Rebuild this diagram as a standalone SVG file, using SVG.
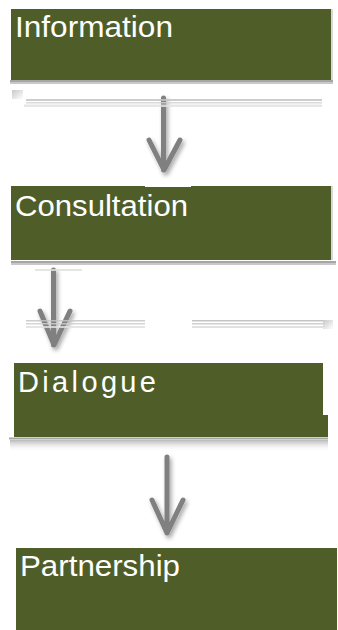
<svg xmlns="http://www.w3.org/2000/svg" width="338" height="630" viewBox="0 0 338 630">
<style>
.box{fill:#4f5e29}
.lbl{font-family:"Liberation Sans",Arial,sans-serif;font-size:29px;fill:#ffffff}
.arr{fill:none;stroke:#808080;stroke-width:5;stroke-linecap:round;stroke-linejoin:round}
.ul{fill:#a6a6a6}
</style>
<defs>
<filter id="sh" x="-50%" y="-50%" width="200%" height="200%">
<feDropShadow dx="2" dy="3" stdDeviation="2" flood-color="#000" flood-opacity="0.35"/>
</filter>
<linearGradient id="sq" x1="0" y1="0" x2="1" y2="1">
<stop offset="0" stop-color="#c8c8c8"/>
<stop offset="1" stop-color="#ffffff"/>
</linearGradient>
<linearGradient id="bs" x1="0" y1="0" x2="0" y2="1">
<stop offset="0" stop-color="#9a9a9a" stop-opacity="0.7"/>
<stop offset="1" stop-color="#ffffff" stop-opacity="0"/>
</linearGradient>
</defs>

<g id="connectors">
<g filter="url(#sh)">
<path class="arr" d="M163.5 98 V170 M149 140 L164 170 L180 140"/>
<path class="arr" d="M53.5 270 V345 M40 311 L54 345 L70 311"/>
<path class="arr" d="M167 457 V533 M152 500 L167 533 L183 500"/>
</g>
</g>

<g id="decor">
<rect x="12" y="90" width="11" height="9" fill="url(#sq)"/>
<rect x="26" y="99" width="296" height="2" fill="#c4c4c4" opacity="0.85"/>
<rect x="26" y="102" width="296" height="1.5" fill="#d4d4d4" opacity="0.85"/>
<rect x="24" y="104.5" width="298" height="2.5" fill="#e2e2e2" opacity="0.85"/>
<rect x="26" y="320" width="119" height="1.5" fill="#c4c4c4" opacity="0.85"/>
<rect x="26" y="323" width="119" height="1.5" fill="#cfcfcf" opacity="0.85"/>
<rect x="26" y="326" width="119" height="2" fill="#e0e0e0" opacity="0.85"/>
<rect x="192" y="320" width="131" height="1.5" fill="#c4c4c4"/>
<rect x="192" y="323" width="131" height="1.5" fill="#cfcfcf"/>
<rect x="192" y="326" width="131" height="2" fill="#e0e0e0"/>
<rect x="323" y="320" width="10" height="9" fill="url(#sq)"/>
<rect x="35" y="269" width="47" height="2" fill="#e0e0e0" opacity="0.85"/>
</g>

<g id="information">
<rect class="box" x="11" y="9" width="320" height="71"/>
<rect x="331" y="9" width="2" height="71" fill="#d8d8d8"/>
<rect class="ul" x="10" y="80" width="323" height="2"/>
<rect x="10" y="82" width="323" height="2" fill="#c8c8c8"/>
<text class="lbl" x="15" y="37" textLength="158" lengthAdjust="spacingAndGlyphs">Information</text>
</g>

<g id="consultation">
<rect class="box" x="11" y="186" width="320" height="74"/>
<rect x="145" y="186" width="46" height="1" fill="#ffffff"/>
<rect x="331" y="186" width="2" height="74" fill="#d8d8d8"/>
<rect class="ul" x="11" y="261" width="325" height="2"/>
<rect x="11" y="263" width="325" height="2" fill="#c8c8c8"/>
<text class="lbl" x="15" y="216" textLength="173" lengthAdjust="spacingAndGlyphs">Consultation</text>
</g>

<g id="dialogue">
<rect x="10" y="440" width="318" height="12" fill="url(#bs)"/>
<rect class="box" x="14" y="363" width="309" height="74"/>
<rect class="box" x="322" y="415" width="6" height="22"/>
<rect class="ul" x="9" y="437.5" width="319" height="2"/>
<text class="lbl" x="18" y="392" textLength="138" lengthAdjust="spacing">Dialogue</text>
</g>

<g id="partnership">
<rect class="box" x="16" y="548" width="321" height="82"/>
<text class="lbl" x="20" y="576" textLength="160" lengthAdjust="spacingAndGlyphs">Partnership</text>
</g>
</svg>
